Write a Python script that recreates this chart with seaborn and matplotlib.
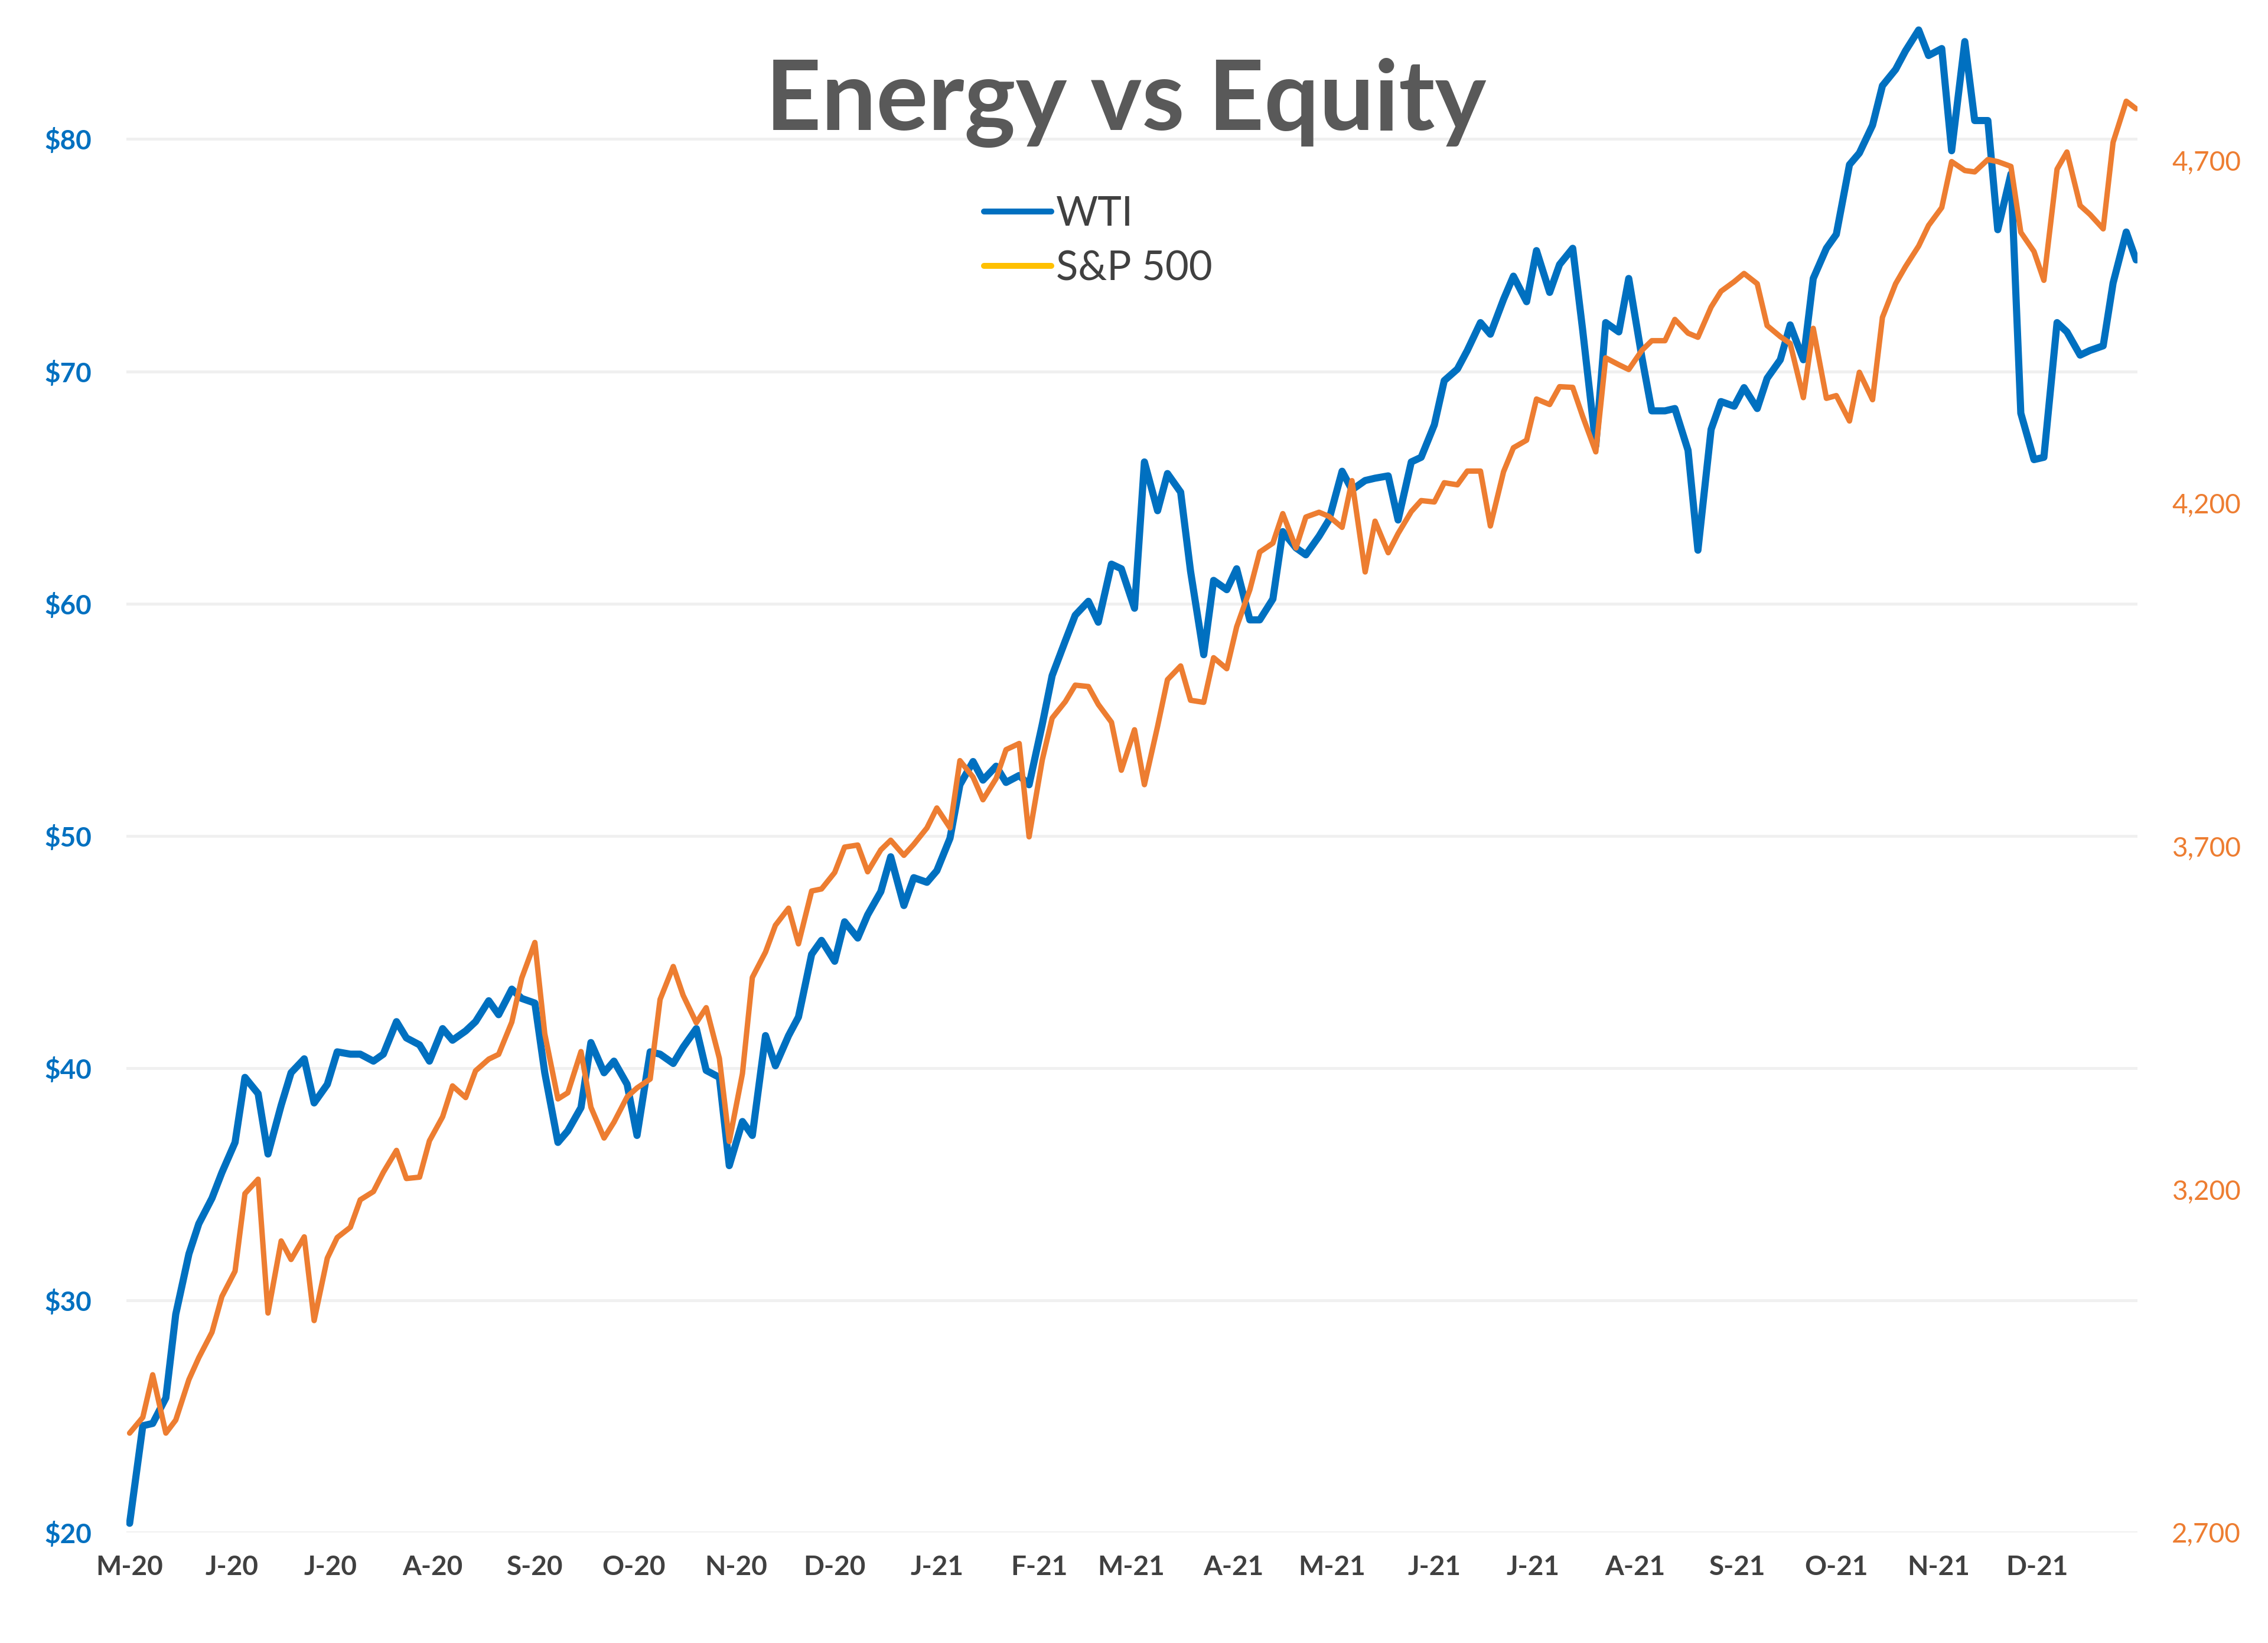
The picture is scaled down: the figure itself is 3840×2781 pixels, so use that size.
import matplotlib
matplotlib.use("Agg")
import matplotlib.pyplot as plt
from matplotlib.lines import Line2D
import pandas as pd
import seaborn as sns

# values, two points a week (Tue / Fri), first point Fri 1 May 2020
wti = [
    20.4,
    24.6, 24.7, 25.8, 29.4, 32.0, 33.3, 34.4, 35.5,
    36.8, 39.6, 38.9, 36.3, 38.4, 39.8, 40.4, 38.5,
    39.3, 40.7, 40.6, 40.6, 40.3, 40.6, 42.0, 41.3,
    41.0, 40.3, 41.7, 41.2, 41.6, 42.0, 42.9, 42.3,
    43.4, 43.0, 42.8, 39.8, 36.8, 37.3, 38.3, 41.1,
    39.8, 40.3, 39.3, 37.1, 40.7, 40.6, 40.2, 40.9,
    41.7, 39.9, 39.6, 35.8, 37.7, 37.1, 41.4, 40.1,
    41.4, 42.2, 44.9, 45.5, 44.6, 46.3, 45.6, 46.6,
    47.6, 49.1, 47.0, 48.2, 48.0, 48.5,
    49.9, 52.2, 53.2, 52.4, 53.0, 52.3, 52.6, 52.2,
    54.8, 56.9, 58.4, 59.5, 60.1, 59.2, 61.7, 61.5,
    59.8, 66.1, 64.0, 65.6, 64.8, 61.4, 57.8, 61.0,
    60.6, 61.5, 59.3, 59.3, 60.2, 63.1, 62.4, 62.1,
    62.9, 63.6, 65.7, 64.9, 65.3, 65.4, 65.5, 63.6,
    66.1, 66.3, 67.7, 69.6, 70.1, 70.9, 72.1, 71.6,
    73.1, 74.1, 73.0, 75.2, 73.4, 74.6, 75.3, 71.8,
    66.8, 72.1, 71.7, 74.0, 70.6, 68.3, 68.3, 68.4,
    66.6, 62.3, 67.5, 68.7, 68.5, 69.3, 68.4, 69.7,
    70.5, 72.0, 70.5, 74.0, 75.3, 75.9, 78.9, 79.4,
    80.6, 82.3, 83.0, 83.8, 84.7, 83.6, 83.9, 79.5,
    84.2, 80.8, 80.8, 76.1, 78.5, 68.2, 66.2, 66.3,
    72.1, 71.7, 70.7, 70.9, 71.1, 73.8, 76.0, 74.8,
]

spx = [
    2845,
    2868, 2930, 2845, 2864, 2923, 2955, 2992, 3044,
    3081, 3194, 3215, 3020, 3125, 3098, 3131, 3009,
    3100, 3130, 3145, 3185, 3197, 3225, 3257, 3216,
    3218, 3271, 3306, 3351, 3334, 3373, 3390, 3397,
    3444, 3508, 3560, 3427, 3332, 3341, 3401, 3320,
    3275, 3298, 3335, 3348, 3361, 3477, 3525, 3483,
    3443, 3465, 3391, 3270, 3369, 3509, 3546, 3585,
    3610, 3558, 3635, 3638, 3662, 3699, 3702, 3663,
    3695, 3709, 3687, 3703, 3727, 3756,
    3727, 3825, 3801, 3768, 3799, 3841, 3850, 3714,
    3826, 3887, 3911, 3935, 3933, 3907, 3881, 3811,
    3870, 3790, 3875, 3943, 3963, 3913, 3910, 3975,
    3959, 4020, 4074, 4129, 4142, 4185, 4135, 4180,
    4187, 4181, 4165, 4233, 4100, 4174, 4128, 4156,
    4188, 4204, 4202, 4230, 4227, 4247, 4247, 4167,
    4246, 4281, 4292, 4352, 4344, 4370, 4369, 4327,
    4275, 4412, 4402, 4395, 4423, 4437, 4437, 4468,
    4448, 4442, 4486, 4509, 4523, 4535, 4520, 4459,
    4443, 4433, 4354, 4455, 4353, 4357, 4320, 4391,
    4351, 4471, 4520, 4545, 4575, 4605, 4631, 4698,
    4685, 4683, 4701, 4698, 4691, 4595, 4567, 4525,
    4687, 4712, 4634, 4621, 4600, 4726, 4786, 4775,
]

month_labels = ['M-20', 'J-20', 'J-20', 'A-20', 'S-20', 'O-20', 'N-20', 'D-20',
                'J-21', 'F-21', 'M-21', 'A-21', 'M-21', 'J-21', 'J-21', 'A-21',
                'S-21', 'O-21', 'N-21', 'D-21']

dates = pd.date_range('2020-05-01', '2021-12-31', freq='W-TUE').union(
    pd.date_range('2020-05-01', '2021-12-31', freq='W-FRI'))
df = pd.DataFrame({'date': dates, 'WTI': wti, 'S&P 500': spx})
month_starts = pd.date_range('2020-05-01', '2021-12-01', freq='MS')

sns.set_style('white')
plt.rcParams['font.family'] = ['Lato', 'DejaVu Sans']

fig = plt.figure(figsize=(12.8, 9.27), dpi=300)
ax = fig.add_axes([0.0557, 0.0672, 0.8867, 0.9188])
ax2 = ax.twinx()

sns.lineplot(data=df, x='date', y='WTI', ax=ax, color='#0070C0', lw=2.9)
sns.lineplot(data=df, x='date', y='S&P 500', ax=ax2, color='#ED7D31', lw=2.2)

ax.set_xlim(pd.Timestamp('2020-04-30'), pd.Timestamp('2021-12-31 09:00'))
ax.set_ylim(20, 85)
ax2.set_ylim(2700, 4900)

# left axis (WTI)
wti_ticks = list(range(20, 81, 10))
ax.set_yticks(wti_ticks)
ax.set_yticklabels(['\\$%d' % v for v in wti_ticks], color='#0070C0',
                   fontweight='bold', fontsize=11)
ax.yaxis.grid(True, color='#F0F0F0', lw=1.2)
ax.xaxis.grid(False)

# right axis (S&P 500)
spx_ticks = list(range(2700, 4701, 500))
ax2.set_yticks(spx_ticks)
ax2.set_yticklabels(['{:,}'.format(v) for v in spx_ticks], color='#ED7D31', fontsize=11)
ax2.grid(False)

ax.set_xticks(month_starts)
ax.set_xticklabels(month_labels, color='#404040', fontweight='bold', fontsize=11)

ax.tick_params(axis='x', length=0, pad=9)
ax.tick_params(axis='y', length=0, pad=14)
ax2.tick_params(axis='y', length=0, pad=14)
for a in (ax, ax2):
    a.set_xlabel('')
    a.set_ylabel('')
    for s in a.spines.values():
        s.set_visible(False)

fig.text(0.4965, 1 - 220 / 2781, 'Energy vs Equity', ha='center', va='baseline',
         fontsize=39.5, fontweight='bold', color='#595959')

handles = [Line2D([], [], color='#0070C0', lw=2.4), Line2D([], [], color='#FFC000', lw=2.4)]
fig.legend(handles, ['WTI', 'S&P 500'], loc='center left', bbox_to_anchor=(0.4339, 0.853),
           frameon=False, fontsize=16.5, handlelength=1.65, handletextpad=0.12,
           labelspacing=0.42, borderpad=0, borderaxespad=0, labelcolor='#404040')

fig.savefig('out.png', dpi=300, facecolor='white')
